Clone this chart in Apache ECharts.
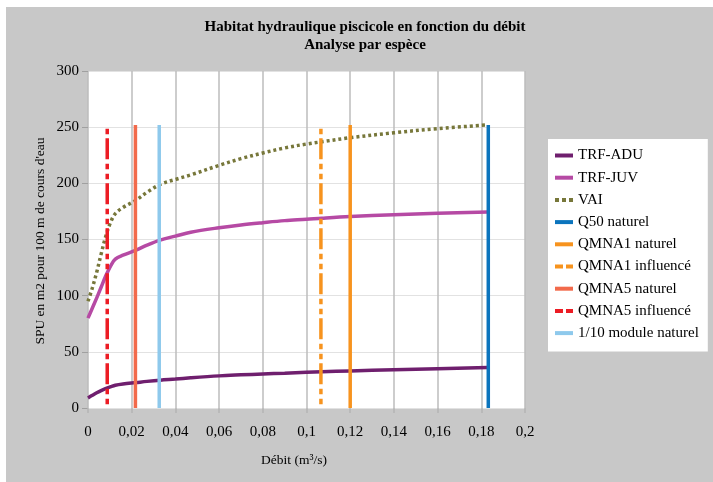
<!DOCTYPE html>
<html>
<head>
<meta charset="utf-8">
<script src="https://cdn.jsdelivr.net/npm/echarts@6/dist/echarts.min.js"></script>
<style>
  html, body { margin: 0; padding: 0; background: #fff; }
  #chart { width: 713px; height: 482px; }
</style>
</head>
<body>
<div id="chart"></div>
<script>
// Débit (m3/s) des points des courbes d'habitat
const debitCourbes = [0, 0.002, 0.004, 0.006, 0.008, 0.0105, 0.0125, 0.016, 0.022, 0.027, 0.033, 0.04, 0.047, 0.06, 0.07, 0.08, 0.09, 0.1, 0.107, 0.12, 0.14, 0.16, 0.183];
// SPU (m2 / 100 m) par espèce
const trfAdu = [9, 11.3, 13.5, 15.5, 17.2, 19, 20.2, 21.3, 22.6, 23.7, 24.8, 25.8, 26.9, 28.6, 29.5, 30.3, 31, 31.8, 32.3, 33, 34, 35, 36];
const trfJuv = [80, 89, 98, 107.5, 117, 127, 132.5, 136, 140.5, 145, 149.5, 153, 156.5, 160.5, 163, 165, 166.8, 168, 169, 170.5, 172, 173.3, 174.5];
const vai = [95, 107, 121, 137, 152, 166, 173, 178.5, 185, 192, 199, 203.5, 207.5, 216, 222, 227, 231.5, 235, 237, 240.6, 245, 248.7, 252];

// Débits de référence (traits verticaux)
const repereNoms = ['Q50 naturel', 'QMNA1 naturel', 'QMNA1 influencé', 'QMNA5 naturel', 'QMNA5 influencé', '1/10 module naturel'];
const repereDebits = [0.1832, 0.12, 0.1066, 0.0217, 0.0088, 0.0326];
const repereHauts = [252, 252, 248.5, 252, 248.5, 252];

const courbeNoms = ['TRF-ADU', 'TRF-JUV', 'VAI'];
const courbeValeurs = [trfAdu, trfJuv, vai];

const couleurs = {
  'TRF-ADU': '#6f1f6e',
  'TRF-JUV': '#b64aa4',
  'VAI': '#77773a',
  'Q50 naturel': '#0b74bd',
  'QMNA1 naturel': '#f7931e',
  'QMNA1 influencé': '#f7931e',
  'QMNA5 naturel': '#f26a4b',
  'QMNA5 influencé': '#ec1c24',
  '1/10 module naturel': '#8ec9ec'
};

const police = '"Liberation Serif", "DejaVu Serif", serif';
// motif tiret long / deux tirets courts, commencé par le haut du trait
const tiret = [5.5, 4, 21, 4.5, 5.5, 4.5];

// pictogrammes de légende (18 x 4)
const iconePlein = 'path://M0,0h18v4h-18z';
const iconePoints = 'path://M0,0h4v4h-4z M7,0h4v4h-4z M14,0h4v4h-4z';
const iconeTirets = 'path://M0,0h8v4h-8z M11,0h7v4h-7z';

const series = [];
const legende = [];
courbeNoms.forEach((nom, i) => {
  legende.push({ name: nom, icon: nom === 'VAI' ? iconePoints : iconePlein });
  series.push({
    name: nom,
    type: 'line',
    data: debitCourbes.map((x, j) => [x, courbeValeurs[i][j]]),
    smooth: 0.35,
    symbol: 'none',
    z: 3,
    lineStyle: {
      color: couleurs[nom],
      width: 3.5,
      type: nom === 'VAI' ? [3, 3] : 'solid',
      cap: 'butt'
    },
    itemStyle: { color: couleurs[nom] }
  });
});
repereNoms.forEach((nom, i) => {
  const pointille = nom.indexOf('influencé') >= 0;
  legende.push({ name: nom, icon: pointille ? iconeTirets : iconePlein });
  series.push({
    name: nom,
    type: 'line',
    data: [[repereDebits[i], repereHauts[i]], [repereDebits[i], 0]],
    symbol: 'none',
    z: 4,
    lineStyle: {
      color: couleurs[nom],
      width: 3.5,
      type: pointille ? tiret : 'solid',
      cap: 'butt'
    },
    itemStyle: { color: couleurs[nom] }
  });
});

const chart = echarts.init(document.getElementById('chart'), null, { renderer: 'canvas' });
chart.setOption({
  animation: false,
  backgroundColor: '#ffffff',
  graphic: [
    { type: 'rect', z: -10, shape: { x: 6, y: 7, width: 707, height: 475 }, style: { fill: '#c8c8c8' } },
    { type: 'text', x: 365, y: 20, style: { text: 'Habitat hydraulique piscicole en fonction du débit', font: 'bold 15px ' + police, fill: '#000', textAlign: 'center' } },
    { type: 'text', x: 365, y: 38, style: { text: 'Analyse par espèce', font: 'bold 15px ' + police, fill: '#000', textAlign: 'center' } },
    { type: 'text', x: 294, y: 453, style: { text: 'Débit (m³/s)', font: '13.5px ' + police, fill: '#000', textAlign: 'center' } },
    { type: 'text', x: 40, y: 241, rotation: Math.PI / 2, style: { text: "SPU en m2 pour 100 m de cours d'eau", font: '13.5px ' + police, fill: '#000', textAlign: 'center', textVerticalAlign: 'middle' } }
  ],
  grid: { left: 88, right: 188, top: 71, bottom: 74, show: true, backgroundColor: '#ffffff', borderWidth: 0 },
  legend: {
    orient: 'vertical',
    left: 548,
    top: 139,
    backgroundColor: '#ffffff',
    padding: [9, 9, 11, 7],
    itemWidth: 18,
    itemHeight: 4,
    itemGap: 7.2,
    symbolKeepAspect: false,
    data: legende,
    textStyle: { fontFamily: police, fontSize: 15, color: '#000', lineHeight: 14 }
  },
  xAxis: {
    type: 'value',
    min: 0,
    max: 0.2,
    interval: 0.02,
    axisLine: { show: false },
    axisTick: { show: true, length: 5, lineStyle: { color: '#b4b4b4', width: 1.5 } },
    splitLine: { show: true, lineStyle: { color: '#bcbcbc', width: 1.5 } },
    axisLabel: {
      margin: 17,
      fontFamily: police,
      fontSize: 15,
      color: '#000',
      formatter: v => String(+v.toFixed(2)).replace('.', ',')
    }
  },
  yAxis: {
    type: 'value',
    min: 0,
    max: 300,
    interval: 50,
    axisLine: { show: false },
    axisTick: { show: true, length: 6, lineStyle: { color: '#a0a0a0' } },
    splitLine: { show: true, lineStyle: { color: '#e2e2e2', width: 1 } },
    axisLabel: { margin: 9, fontFamily: police, fontSize: 15, color: '#000' }
  },
  series: series
});
</script>
</body>
</html>
